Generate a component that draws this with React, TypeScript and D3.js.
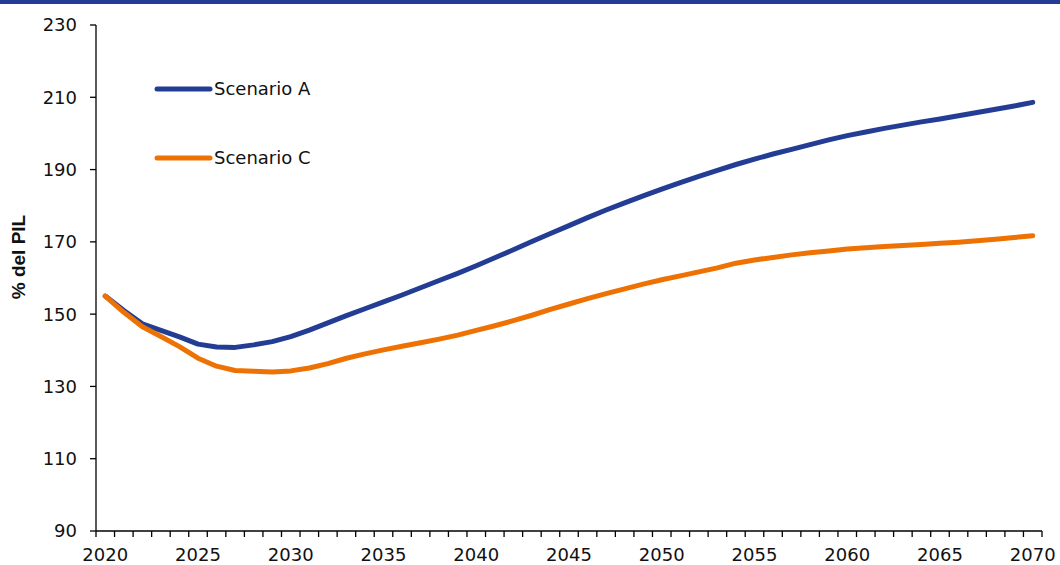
import React from "react";
import * as d3 from "d3";

const years: number[] = d3.range(2020, 2071);
const scenarioA: number[] = [
  155.0, 151.0, 147.3, 145.5, 143.7, 141.7, 140.9, 140.8, 141.5, 142.4,
  143.8, 145.6, 147.6, 149.6, 151.5, 153.4, 155.3, 157.3, 159.3, 161.3,
  163.4, 165.6, 167.8, 170.1, 172.3, 174.5, 176.7, 178.8, 180.8, 182.7,
  184.6, 186.4, 188.1, 189.8, 191.4, 192.9, 194.3, 195.6, 196.9, 198.2,
  199.4, 200.4, 201.4, 202.3, 203.2, 204.0, 204.9, 205.8, 206.7, 207.6,
  208.6,
];
const scenarioC: number[] = [
  155.0, 150.5, 146.5, 143.8, 141.0, 137.8, 135.6, 134.4, 134.2, 134.0,
  134.3, 135.1, 136.3, 137.8, 139.0, 140.1, 141.1, 142.1, 143.1, 144.2,
  145.5, 146.8, 148.2, 149.7, 151.3, 152.8, 154.3, 155.7, 157.0, 158.3,
  159.5, 160.6, 161.7, 162.8, 164.1, 165.0, 165.7, 166.4, 167.0, 167.5,
  168.0, 168.4, 168.7, 169.0, 169.3, 169.6, 169.9, 170.3, 170.7, 171.2,
  171.7,
];
const yTicks: number[] = [90, 110, 130, 150, 170, 190, 210, 230];
const xLabelYears: number[] = [2020, 2025, 2030, 2035, 2040, 2045, 2050, 2055, 2060, 2065, 2070];
const seriesNames: string[] = ["Scenario A", "Scenario C"];
const seriesColors: string[] = ["#233D95", "#EE7203"];
const yTitle = "% del PIL";

const W = 1060;
const H = 565;
const left = 96;
const right = 1042;
const top = 25;
const bottom = 531;

export default function App() {
  const x = d3.scaleBand<number>().domain(years).range([left, right]).padding(0);
  const y = d3.scaleLinear().domain([90, 230]).range([bottom, top]);
  const cx = (yr: number) => (x(yr) as number) + x.bandwidth() / 2;

  const series = [scenarioA, scenarioC];
  const line = d3
    .line<number>()
    .x((_, i) => cx(years[i]))
    .y((v) => y(v));

  const boundaries = years.map((yr) => x(yr) as number).concat([right]);
  const font = "'DejaVu Sans', sans-serif";

  return (
    <svg
      width={W}
      height={H}
      style={{ position: "absolute", left: 0, top: 0, background: "#fff" }}
    >
      <rect x={0} y={0} width={W} height={4} fill="#233D95" />

      {/* y axis */}
      <line x1={left} x2={left} y1={top} y2={bottom} stroke="#000" strokeWidth={1.3} />
      {yTicks.map((t) => (
        <g key={t}>
          <line x1={left - 6} x2={left} y1={y(t)} y2={y(t)} stroke="#000" strokeWidth={1.3} />
          <text
            x={77}
            y={y(t)}
            dy="0.36em"
            textAnchor="end"
            fontFamily={font}
            fontSize={18}
            fill="#111"
          >
            {t}
          </text>
        </g>
      ))}
      <text
        transform={`translate(25, ${257}) rotate(-90)`}
        textAnchor="middle"
        fontFamily="'Liberation Sans', Arial, sans-serif"
        fontWeight="bold"
        fontSize={19}
        fill="#111"
      >
        {yTitle}
      </text>

      {/* x axis */}
      <line x1={left} x2={right} y1={bottom} y2={bottom} stroke="#000" strokeWidth={1.3} />
      {boundaries.map((bx, i) => (
        <line key={i} x1={bx} x2={bx} y1={bottom} y2={bottom + 6} stroke="#000" strokeWidth={1.3} />
      ))}
      {xLabelYears.map((yr) => (
        <text
          key={yr}
          x={cx(yr)}
          y={561}
          textAnchor="middle"
          fontFamily={font}
          fontSize={18}
          fill="#111"
        >
          {yr}
        </text>
      ))}

      {/* lines */}
      {series.map((s, i) => (
        <path
          key={i}
          d={line(s) || ""}
          fill="none"
          stroke={seriesColors[i]}
          strokeWidth={5}
          strokeLinecap="round"
          strokeLinejoin="round"
        />
      ))}

      {/* legend */}
      {seriesNames.map((n, i) => {
        const ly = i === 0 ? 89 : 158;
        return (
          <g key={n}>
            <line x1={157} x2={210} y1={ly} y2={ly} stroke={seriesColors[i]} strokeWidth={5} strokeLinecap="round" />
            <text x={214} y={ly} dy="0.36em" fontFamily={font} fontSize={18} fill="#111">
              {n}
            </text>
          </g>
        );
      })}
    </svg>
  );
}
